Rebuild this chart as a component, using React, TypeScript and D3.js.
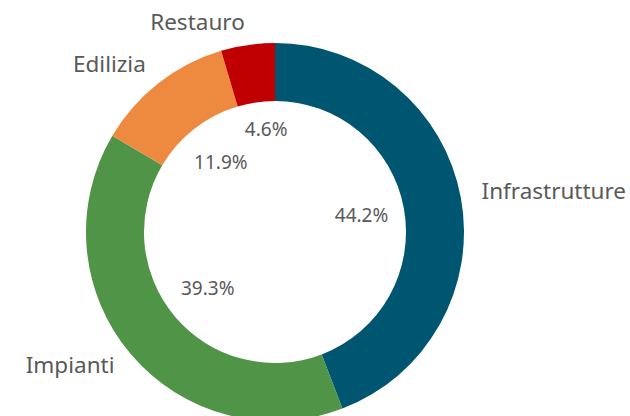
import React, { useRef, useEffect } from "react";
import * as d3 from "d3";

const categories = ["Infrastrutture", "Impianti", "Edilizia", "Restauro"];
const shares = [44.2, 39.3, 11.9, 4.6];
const colors = ["#005670", "#509448", "#EE8A3F", "#C00000"];

const width = 630;
const height = 416;

const App = () => {
  const svgRef = useRef<SVGSVGElement>(null);

  useEffect(() => {
    const svg = d3.select(svgRef.current);
    svg.selectAll("*").remove();

    const cx = 275;
    const cy = 232;
    const outerR = 189;
    const innerR = 131;
    const nameR = 210;

    const data = categories.map((c, i) => ({ name: c, value: shares[i], color: colors[i] }));

    const pie = d3.pie<any>().value(d => d.value).sort(null);
    const arcs = pie(data);

    const arc = d3.arc<any>().innerRadius(innerR).outerRadius(outerR);

    const g = svg.append("g").attr("transform", `translate(${cx}, ${cy})`);

    g.selectAll("path.slice")
      .data(arcs)
      .enter()
      .append("path")
      .attr("class", "slice")
      .attr("d", arc)
      .attr("fill", d => d.data.color);

    const mid = (d: any) => (d.startAngle + d.endAngle) / 2;
    // small slices get their label pushed a bit further out
    const pctR = (d: any) => (d.data.value < 10 ? 103 : 88);

    // percent labels inside the hole
    g.selectAll("text.pct")
      .data(arcs)
      .enter()
      .append("text")
      .attr("class", "pct")
      .attr("x", d => Math.sin(mid(d)) * pctR(d) + (d.data.value < 10 ? 6 : 0))
      .attr("y", d => -Math.cos(mid(d)) * pctR(d) - 1)
      .attr("text-anchor", "middle")
      .attr("dominant-baseline", "central")
      .style("font-family", "'Noto Sans', sans-serif")
      .style("font-size", "19px")
      .style("fill", "#595959")
      .text(d => d.data.value.toFixed(1) + "%");

    // category names outside
    g.selectAll("text.name")
      .data(arcs)
      .enter()
      .append("text")
      .attr("class", "name")
      .attr("x", d => Math.sin(mid(d)) * nameR)
      .attr("y", d => -Math.cos(mid(d)) * nameR - 3)
      .attr("text-anchor", d => (Math.sin(mid(d)) >= 0 ? "start" : "end"))
      .attr("dominant-baseline", "central")
      .style("font-family", "'Noto Sans', sans-serif")
      .style("font-size", "22.5px")
      .style("fill", "#595959")
      .text(d => d.data.name);
  }, []);

  return (
    <svg
      ref={svgRef}
      width={width}
      height={height}
      style={{ position: "absolute", left: 0, top: 0, background: "#fff" }}
    />
  );
};

export default App;
